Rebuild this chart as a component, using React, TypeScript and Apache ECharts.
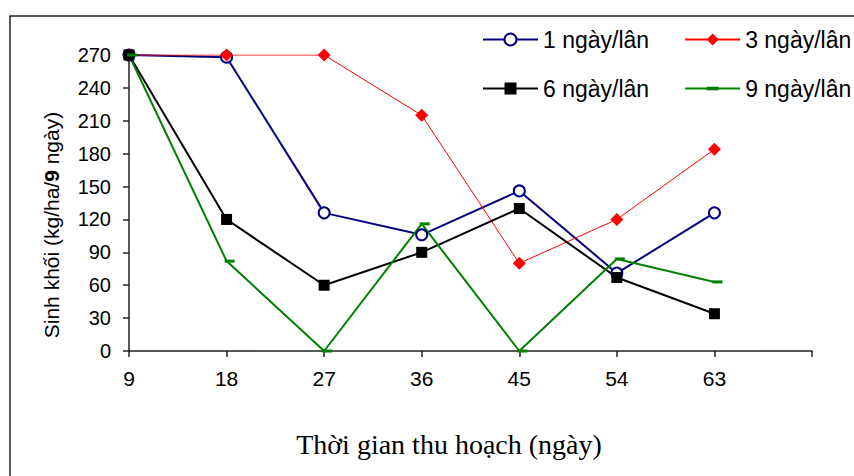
import React, { useEffect, useRef } from "react";
import * as echarts from "echarts";

// Harvest day (x axis); the trailing blank slot leaves room at the right end of the axis
const harvestDays = ["9", "18", "27", "36", "45", "54", "63", ""];

const seriesNames = ["1 ngày/lân", "3 ngày/lân", "6 ngày/lân", "9 ngày/lân"];

// Dry biomass (kg/ha/9 ngày) per harvesting interval
const every1Day = [270, 268, 126, 106, 146, 71, 126];
const every3Days = [270, 270, 270, 215, 80, 120, 184];
const every6Days = [270, 120, 60, 90, 130, 67, 34];
const every9Days = [270, 82, 0, 116, 0, 84, 63];

const yMin = 0;
const yMax = 270;
const yStep = 30;

const SANS = "'Liberation Sans', Arial, sans-serif";
const SERIF = "'Liberation Serif', 'Times New Roman', serif";

// Short horizontal dash marker; the two bare move-tos keep a square bounding box
const DASH = "path://M0,0M10,10M0,3.5h10v3h-10z";

export default function App() {
  const ref = useRef<HTMLDivElement>(null);

  useEffect(() => {
    document.body.style.margin = "0";
    if (!ref.current) return;
    const chart = echarts.init(ref.current, undefined, { renderer: "svg" });

    const legendCommon = {
      left: 482,
      orient: "horizontal" as const,
      itemWidth: 55,
      itemHeight: 15,
      itemGap: 35,
      padding: 0,
      selectedMode: false,
      textStyle: { fontFamily: SANS, fontSize: 23, color: "#000" },
    };

    chart.setOption({
      animation: false,
      backgroundColor: "#fff",
      textStyle: { fontFamily: SANS },
      grid: { left: 129, right: 42, top: 55, bottom: 125, containLabel: false },
      legend: [
        { ...legendCommon, top: 28, data: [seriesNames[0], seriesNames[1]] },
        { ...legendCommon, top: 77, data: [seriesNames[2], seriesNames[3]] },
      ],
      graphic: [
        {
          type: "rect",
          shape: { x: 10, y: 16, width: 1200, height: 1000 },
          style: { fill: "none", stroke: "#222", lineWidth: 1.5 },
          silent: true,
          z: -1,
        },
        {
          // y-axis title, read bottom to top, with the "9" in bold
          type: "text",
          x: 51,
          y: 225,
          rotation: Math.PI / 2,
          silent: true,
          style: {
            text: "{a|Sinh khối (kg/ha/}{b|9}{a| ngày)}",
            align: "center",
            verticalAlign: "middle",
            fill: "#000",
            rich: {
              a: { fontFamily: SANS, fontSize: 21, fill: "#000" },
              b: { fontFamily: SANS, fontSize: 21, fontWeight: "bold", fill: "#000" },
            },
          },
        },
      ],
      xAxis: {
        type: "category",
        data: harvestDays,
        boundaryGap: false,
        axisLine: { lineStyle: { color: "#222", width: 1.5 } },
        axisTick: { show: true, length: 6, lineStyle: { color: "#222", width: 1.5 } },
        axisLabel: { color: "#000", fontSize: 21, fontFamily: SANS, margin: 17 },
        splitLine: { show: false },
        name: "Thời gian thu hoạch (ngày)",
        nameLocation: "middle",
        nameGap: 79,
        nameTextStyle: {
          fontFamily: SERIF,
          fontSize: 28,
          color: "#000",
          padding: [0, 43, 0, 0],
        },
      },
      yAxis: {
        type: "value",
        min: yMin,
        max: yMax,
        interval: yStep,
        axisLine: { show: true, lineStyle: { color: "#222", width: 1.5 } },
        axisTick: { show: true, length: 6, lineStyle: { color: "#222", width: 1.5 } },
        axisLabel: { color: "#000", fontSize: 20, fontFamily: SANS, margin: 18 },
        splitLine: { show: false },
      },
      series: [
        {
          name: seriesNames[0],
          type: "line",
          data: every1Day,
          symbol: "emptyCircle",
          symbolSize: 11,
          itemStyle: { color: "#000080", borderColor: "#000080", borderWidth: 1.5 },
          lineStyle: { color: "#000080", width: 2 },
        },
        {
          name: seriesNames[1],
          type: "line",
          data: every3Days,
          symbol: "diamond",
          symbolSize: 13,
          itemStyle: { color: "#ff0000" },
          lineStyle: { color: "#ff0000", width: 1 },
        },
        {
          name: seriesNames[2],
          type: "line",
          data: every6Days,
          symbol: "rect",
          symbolSize: 11,
          itemStyle: { color: "#000000" },
          lineStyle: { color: "#000000", width: 2 },
        },
        {
          name: seriesNames[3],
          type: "line",
          data: every9Days,
          symbol: DASH,
          symbolSize: 10,
          symbolOffset: [3, 0],
          itemStyle: { color: "#008000" },
          lineStyle: { color: "#008000", width: 2 },
        },
      ],
    });

    return () => chart.dispose();
  }, []);

  return <div ref={ref} style={{ width: 854, height: 476 }} />;
}
